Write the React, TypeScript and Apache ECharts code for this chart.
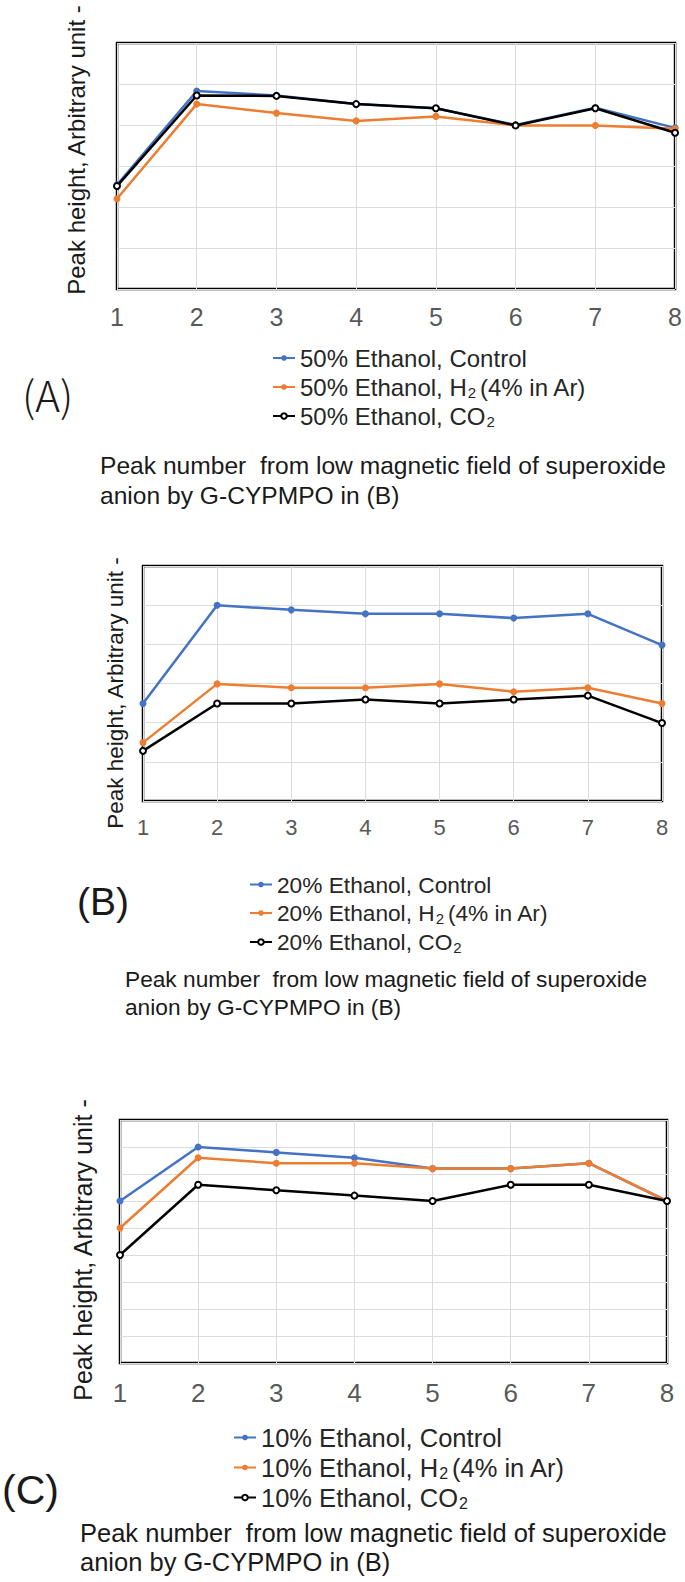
import React, { useEffect, useRef } from "react";
import * as echarts from "echarts";

const peaks = ["1", "2", "3", "4", "5", "6", "7", "8"];

// Panel A (50% ethanol), arbitrary units (grid 0..6)
const namesA = ["50% Ethanol, Control", "50% Ethanol, H2 (4% in Ar)", "50% Ethanol, CO2"];
const ctrl50 = [2.54, 4.83, 4.72, 4.51, 4.41, 4.0, 4.42, 3.93];
const h2_50 = [2.2, 4.51, 4.29, 4.1, 4.21, 3.99, 3.99, 3.91];
const co2_50 = [2.51, 4.72, 4.71, 4.51, 4.41, 3.99, 4.41, 3.81];

// Panel B (20% ethanol), arbitrary units (grid 0..6)
const namesB = ["20% Ethanol, Control", "20% Ethanol, H2 (4% in Ar)", "20% Ethanol, CO2"];
const ctrl20 = [2.49, 5.0, 4.88, 4.78, 4.78, 4.67, 4.78, 3.98];
const h2_20 = [1.49, 2.99, 2.89, 2.89, 2.99, 2.79, 2.89, 2.49];
const co2_20 = [1.28, 2.49, 2.49, 2.59, 2.49, 2.59, 2.69, 1.99];

// Panel C (10% ethanol), arbitrary units (grid 0..9)
const namesC = ["10% Ethanol, Control", "10% Ethanol, H2 (4% in Ar)", "10% Ethanol, CO2"];
const ctrl10 = [6.0, 8.0, 7.8, 7.6, 7.2, 7.2, 7.4, 6.0];
const h2_10 = [5.0, 7.6, 7.4, 7.4, 7.2, 7.2, 7.4, 6.0];
const co2_10 = [4.0, 6.6, 6.4, 6.2, 6.0, 6.6, 6.6, 6.0];

const yTitle = "Peak height, Arbitrary unit -";
const caption1 = "Peak number  from low magnetic field of superoxide";
const caption2 = "anion by G-CYPMPO in (B)";
const panelLabels = ["(A)", "(B)", "(C)"];

const colors = ["#4472C4", "#ED7D31", "#000000"];
const FONT = "'Liberation Sans', Arial, sans-serif";

type Panel = {
  names: string[];
  data: number[][];
  yMax: number;
  grid: { left: number; top: number; width: number; height: number };
  tickSize: number;
  tickMargin: number;
  legend: { left: number; top: number; size: number; lh: number };
  title: { x: number; y: number; size: number };
  caption: { x: number; y: number; size: number; gap: number };
  label: { x: number; y: number; size: number; family: string; weight: any };
};

const panels: Panel[] = [
  {
    names: namesA,
    data: [ctrl50, h2_50, co2_50],
    yMax: 6,
    grid: { left: 117, top: 43, width: 560, height: 246 },
    tickSize: 25,
    tickMargin: 15,
    legend: { left: 272, top: 345, size: 24, lh: 26 },
    title: { x: 76, y: 150, size: 24 },
    caption: { x: 100, y: 465, size: 24.6, gap: 30 },
    label: { x: 22, y: 393, size: 42, family: "'Noto Sans CJK JP', sans-serif", weight: 300 },
  },
  {
    names: namesB,
    data: [ctrl20, h2_20, co2_20],
    yMax: 6,
    grid: { left: 143, top: 566, width: 519, height: 235 },
    tickSize: 22,
    tickMargin: 15,
    legend: { left: 249, top: 872, size: 22.7, lh: 25 },
    title: { x: 115, y: 693, size: 22.5 },
    caption: { x: 125, y: 979, size: 22.7, gap: 28 },
    label: { x: 77, y: 901, size: 39, family: FONT, weight: "normal" },
  },
  {
    names: namesC,
    data: [ctrl10, h2_10, co2_10],
    yMax: 9,
    grid: { left: 120, top: 1120, width: 547, height: 243 },
    tickSize: 26,
    tickMargin: 17,
    legend: { left: 233, top: 1424, size: 25.5, lh: 27 },
    title: { x: 83, y: 1250, size: 25 },
    caption: { x: 80, y: 1533, size: 25.5, gap: 29 },
    label: { x: 2, y: 1490, size: 41, family: FONT, weight: "normal" },
  },
];

function legendFormatter(name: string) {
  return name.replace("H2 ", "H{sub|2}{gap| }").replace("CO2", "CO{sub|2}");
}

function buildOption() {
  const grid: any[] = [];
  const xAxis: any[] = [];
  const yAxis: any[] = [];
  const series: any[] = [];
  const legend: any[] = [];
  const graphic: any[] = [];

  panels.forEach((p, i) => {
    grid.push({
      ...p.grid,
      show: true,
      borderColor: "#000",
      borderWidth: 2.5,
      backgroundColor: "transparent",
    });
    xAxis.push({
      type: "category",
      gridIndex: i,
      data: peaks,
      boundaryGap: false,
      axisLine: { show: false },
      axisTick: { show: false },
      axisLabel: {
        color: "#595959",
        fontSize: p.tickSize,
        fontFamily: FONT,
        margin: p.tickMargin,
      },
      splitLine: { show: true, lineStyle: { color: "#dcdcdc", width: 1 } },
    });
    yAxis.push({
      type: "value",
      gridIndex: i,
      min: 0,
      max: p.yMax,
      interval: 1,
      axisLine: { show: false },
      axisTick: { show: false },
      axisLabel: { show: false },
      splitLine: { show: true, lineStyle: { color: "#dcdcdc", width: 1 } },
    });
    p.names.forEach((n, k) => {
      series.push({
        type: "line",
        name: n,
        xAxisIndex: i,
        yAxisIndex: i,
        data: p.data[k],
        color: colors[k],
        symbol: k === 2 ? "emptyCircle" : "circle",
        symbolSize: k === 2 ? 6 : 7,
        lineStyle: { width: 2.5, color: colors[k] },
        itemStyle: { color: colors[k], borderColor: colors[k], borderWidth: k === 2 ? 2 : 0 },
        z: 2 + k,
        emphasis: { disabled: true },
      });
    });
    const subSize = Math.round(p.legend.size * 0.64);
    legend.push({
      data: p.names,
      orient: "vertical",
      left: p.legend.left,
      top: p.legend.top,
      padding: 0,
      itemGap: 3,
      itemWidth: 22,
      itemHeight: 7,
      selectedMode: false,
      formatter: legendFormatter,
      textStyle: {
        fontFamily: FONT,
        fontSize: p.legend.size,
        color: "#262626",
        lineHeight: p.legend.lh,
        rich: {
          sub: {
            fontFamily: FONT,
            fontSize: subSize,
            color: "#262626",
            lineHeight: p.legend.lh - 11,
            padding: [11, 0, 0, 1],
          },
          gap: {
            fontFamily: FONT,
            fontSize: 14,
            lineHeight: p.legend.lh,
          },
        },
      },
    });
    graphic.push({
      type: "text",
      x: p.title.x,
      y: p.title.y,
      rotation: Math.PI / 2,
      style: {
        text: yTitle,
        fontFamily: FONT,
        fontSize: p.title.size,
        fill: "#1a1a1a",
        textAlign: "center",
        textVerticalAlign: "middle",
        align: "center",
        verticalAlign: "middle",
      },
    });
    [caption1, caption2].forEach((c, j) => {
      graphic.push({
        type: "text",
        x: p.caption.x,
        y: p.caption.y + j * p.caption.gap,
        style: {
          text: c,
          fontFamily: FONT,
          fontSize: p.caption.size,
          fill: "#1a1a1a",
          textAlign: "left",
          textVerticalAlign: "middle",
          align: "left",
          verticalAlign: "middle",
        },
      });
    });
    graphic.push({
      type: "text",
      x: p.label.x,
      y: p.label.y,
      style: {
        text: panelLabels[i],
        fontFamily: p.label.family,
        fontWeight: p.label.weight,
        fontSize: p.label.size,
        fill: "#1a1a1a",
        textAlign: "left",
        textVerticalAlign: "middle",
        align: "left",
        verticalAlign: "middle",
      },
    });
  });

  return {
    animation: false,
    backgroundColor: "#ffffff",
    grid,
    xAxis,
    yAxis,
    series,
    legend,
    graphic,
  };
}

export default function App() {
  const ref = useRef<HTMLDivElement>(null);
  useEffect(() => {
    if (!ref.current) return;
    const chart = echarts.init(ref.current, undefined, { renderer: "svg" });
    chart.setOption(buildOption() as any);
    return () => chart.dispose();
  }, []);
  return (
    <div
      ref={ref}
      style={{ position: "absolute", left: 0, top: 0, width: 685, height: 1582 }}
    />
  );
}
